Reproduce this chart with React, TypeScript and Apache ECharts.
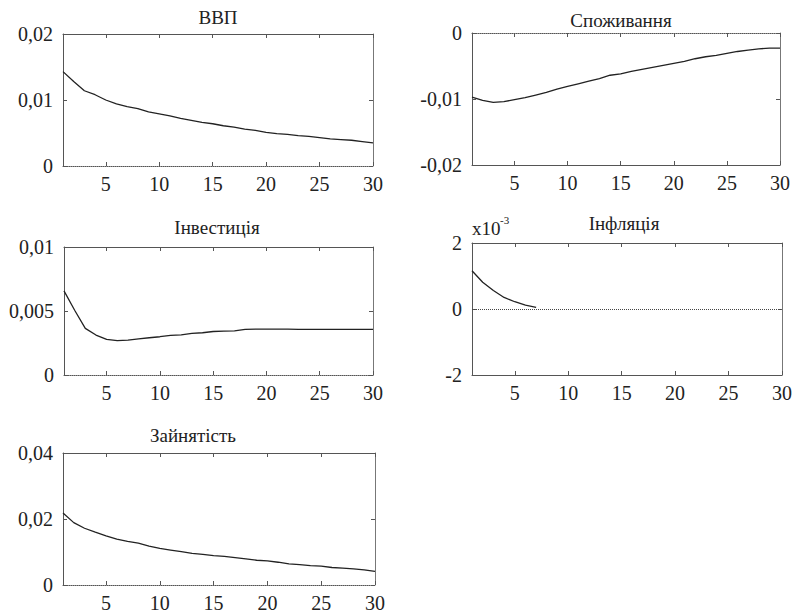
import React, { useEffect, useRef } from "react";
import * as echarts from "echarts";

const periods = [1, 2, 3, 4, 5, 6, 7, 8, 9, 10, 11, 12, 13, 14, 15, 16, 17, 18, 19, 20, 21, 22, 23, 24, 25, 26, 27, 28, 29, 30];
const xTickLabels = [5, 10, 15, 20, 25, 30];

const titles = ["ВВП", "Споживання", "Інвестиція", "Інфляція", "Зайнятість"];

const gdp = [0.0143, 0.0128, 0.0114, 0.0108, 0.01, 0.0094, 0.009, 0.0087, 0.0082, 0.0079, 0.0076, 0.0072, 0.0069, 0.0066, 0.0064, 0.0061, 0.0059, 0.0056, 0.0054, 0.0051, 0.0049, 0.0048, 0.0046, 0.0045, 0.0043, 0.0041, 0.004, 0.0039, 0.0037, 0.0035];
const consumption = [-0.0097, -0.0102, -0.0105, -0.0104, -0.0101, -0.0098, -0.0094, -0.009, -0.0085, -0.0081, -0.0077, -0.0073, -0.0069, -0.0064, -0.0062, -0.0058, -0.0055, -0.0052, -0.0049, -0.0046, -0.0043, -0.0039, -0.0036, -0.0034, -0.0031, -0.0028, -0.0026, -0.0024, -0.0023, -0.0023];
const investment = [0.00657, 0.00506, 0.00364, 0.00312, 0.00278, 0.00268, 0.00273, 0.00283, 0.00291, 0.00299, 0.00309, 0.00314, 0.00325, 0.0033, 0.0034, 0.00343, 0.00345, 0.00356, 0.00358, 0.00358, 0.00358, 0.00358, 0.00357, 0.00357, 0.00357, 0.00357, 0.00357, 0.00357, 0.00357, 0.00357];
const inflation = [0.00116, 0.00081, 0.00056, 0.00035, 0.00022, 0.00012, 0.00005];
const employment = [0.0218, 0.0189, 0.0172, 0.016, 0.0149, 0.0139, 0.0132, 0.0127, 0.0118, 0.0111, 0.0106, 0.0101, 0.0096, 0.0093, 0.0089, 0.0087, 0.0083, 0.0079, 0.0075, 0.0073, 0.0069, 0.0064, 0.0062, 0.0059, 0.0057, 0.0053, 0.0051, 0.0049, 0.0046, 0.0041];

const yMins = [0, -0.02, 0, -0.002, 0];
const yMaxs = [0.02, 0, 0.01, 0.002, 0.04];
const yIntervals = [0.01, 0.01, 0.005, 0.002, 0.02];

const FONT = "Tinos";
const BOX = "#555";
const LINE = "#222";

const commaFmt = (v: number) => String(+v.toFixed(4)).replace(".", ",");
const milliFmt = (v: number) => String(Math.round(v * 1000));

export default function App() {
  const ref = useRef<HTMLDivElement>(null);

  useEffect(() => {
    if (!ref.current) return;
    const chart = echarts.init(ref.current, null, { renderer: "svg" });

    const grids = [
      { left: 63, top: 34, width: 310, height: 132 },
      { left: 472, top: 33, width: 308, height: 132 },
      { left: 64, top: 247, width: 309, height: 128 },
      { left: 472, top: 243, width: 310, height: 132 },
      { left: 63, top: 453, width: 312, height: 132 },
    ];
    const seriesData = [gdp, consumption, investment, inflation, employment];
    const zeroAt = ["bottom", "top", "bottom", "middle", "bottom"];
    const fmts = [commaFmt, commaFmt, commaFmt, milliFmt, commaFmt];

    const xAxis: any[] = [];
    const yAxis: any[] = [];
    const series: any[] = [];
    const labelStyle = { color: "#222", fontFamily: FONT, fontSize: 20, fontStyle: "normal", fontWeight: "normal" };

    grids.forEach((g, i) => {
      const tickCommon = { inside: true, length: 4, lineStyle: { color: BOX } };
      xAxis.push({
        type: "value",
        gridIndex: i,
        min: 1,
        max: 30,
        position: "bottom",
        splitLine: { show: false },
        axisLine: { show: true, onZero: false, lineStyle: { color: BOX, width: 1, type: zeroAt[i] === "bottom" ? "dotted" : "solid" } },
        axisTick: { show: true, ...tickCommon, customValues: xTickLabels },
        axisLabel: { show: true, customValues: xTickLabels, ...labelStyle, margin: 8 },
      });
      xAxis.push({
        type: "value",
        gridIndex: i,
        min: 1,
        max: 30,
        position: "top",
        splitLine: { show: false },
        axisLine: { show: true, onZero: false, lineStyle: { color: BOX, width: 1, type: zeroAt[i] === "top" ? "dotted" : "solid" } },
        axisTick: { show: true, ...tickCommon, customValues: xTickLabels },
        axisLabel: { show: false },
      });
      yAxis.push({
        type: "value",
        gridIndex: i,
        min: yMins[i],
        max: yMaxs[i],
        interval: yIntervals[i],
        position: "left",
        splitLine: { show: false },
        axisLine: { show: true, onZero: false, lineStyle: { color: BOX, width: 1 } },
        axisTick: { show: true, ...tickCommon },
        axisLabel: { show: true, formatter: fmts[i], ...labelStyle, margin: 10 },
      });
      yAxis.push({
        type: "value",
        gridIndex: i,
        min: yMins[i],
        max: yMaxs[i],
        interval: yIntervals[i],
        position: "right",
        splitLine: { show: false },
        axisLine: { show: true, onZero: false, lineStyle: { color: "#777", width: 1 } },
        axisTick: { show: true, ...tickCommon },
        axisLabel: { show: false },
      });
      const s: any = {
        type: "line",
        xAxisIndex: 2 * i,
        yAxisIndex: 2 * i,
        symbol: "none",
        showSymbol: false,
        lineStyle: { color: LINE, width: 1.3 },
        data: seriesData[i].map((v, k) => [periods[k], v]),
      };
      if (zeroAt[i] === "middle") {
        s.markLine = {
          silent: true,
          symbol: "none",
          label: { show: false },
          lineStyle: { color: "#444", type: "dotted", width: 1 },
          data: [{ yAxis: 0 }],
        };
      }
      series.push(s);
    });

    const titlePos = [
      [218, 17],
      [621, 20],
      [217, 227],
      [624, 223],
      [193, 435],
    ];

    const graphic: any[] = titles.map((t, i) => ({
      type: "text",
      x: titlePos[i][0],
      y: titlePos[i][1],
      style: {
        text: t,
        fontFamily: FONT,
        fontSize: 19,
        fill: "#222",
        align: "center",
        verticalAlign: "middle",
      },
    }));
    graphic.push({
      type: "text",
      x: 472,
      y: 228,
      style: { text: "x10", fontFamily: FONT, fontSize: 19, fill: "#222", align: "left", verticalAlign: "middle" },
    });
    graphic.push({
      type: "text",
      x: 500,
      y: 220,
      style: { text: "-3", fontFamily: FONT, fontSize: 11, fill: "#222", align: "left", verticalAlign: "middle" },
    });

    chart.setOption({
      animation: false,
      backgroundColor: "#ffffff",
      textStyle: { fontFamily: FONT },
      grid: grids.map((g) => ({ ...g, containLabel: false })),
      xAxis,
      yAxis,
      series,
      graphic,
    });

    return () => chart.dispose();
  }, []);

  return (
    <div
      ref={ref}
      style={{ position: "fixed", left: 0, top: 0, width: 799, height: 615, background: "#fff" }}
    />
  );
}
